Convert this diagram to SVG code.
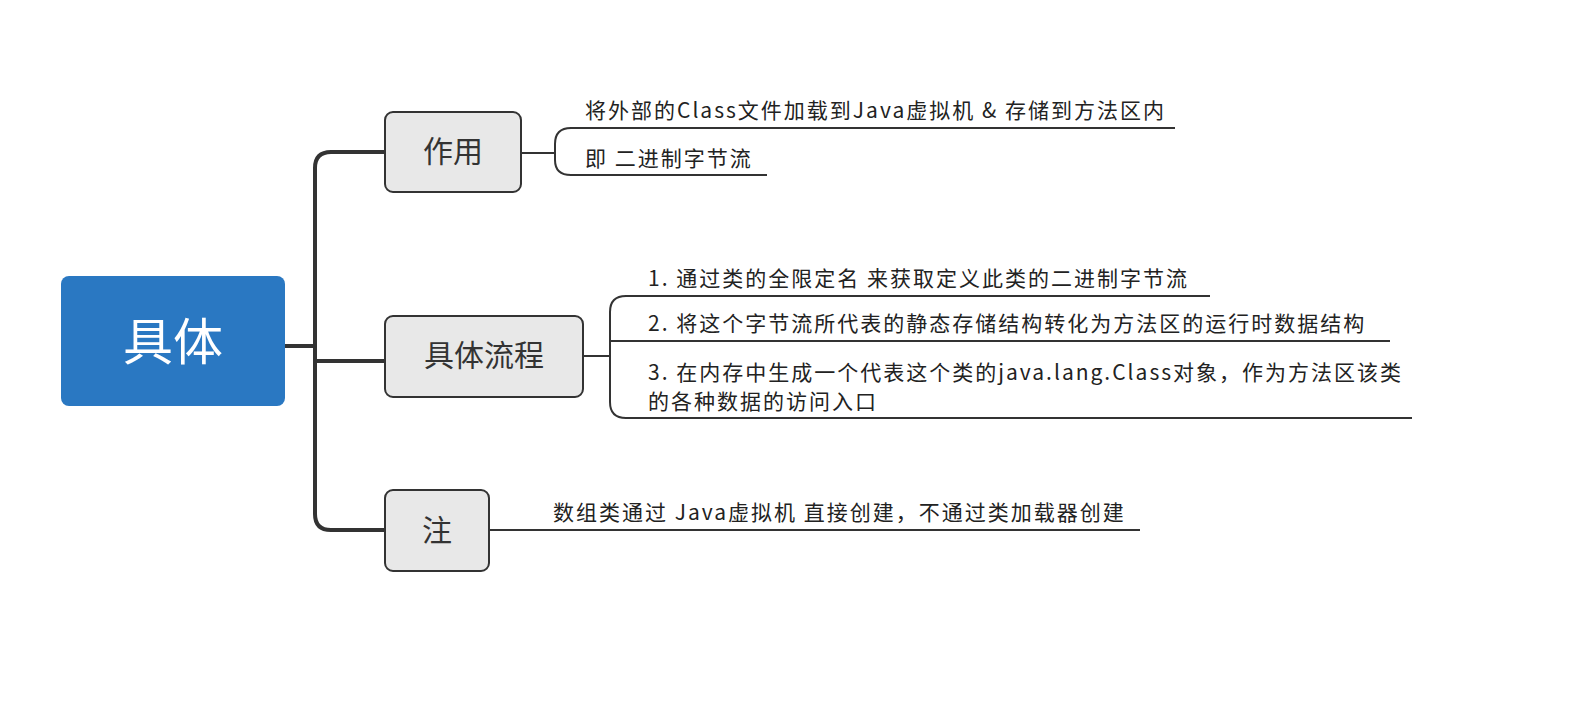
<svg xmlns="http://www.w3.org/2000/svg" width="1592" height="710" viewBox="0 0 1592 710">
<style>
.t{font-family:"Noto Sans CJK SC","Noto Sans",sans-serif;fill:#222;font-size:21px;letter-spacing:2px}
.b{fill:#e8e8e8;stroke:#333;stroke-width:2}
.bt{font-family:"Noto Sans CJK SC",sans-serif;fill:#333;font-size:30px;text-anchor:middle}
.c{fill:none;stroke:#333}
</style>
<rect width="1592" height="710" fill="#fff"/>
<g id="connectors">
<path class="c" stroke-width="4" d="M285 346H315M385 152H331Q315 152 315 168V514Q315 530 331 530H385M315 361H385"/>
<path class="c" stroke-width="2" d="M521 153H548M1175 128H571Q555 128 555 144V160Q555 175 571 175H767M548 153H555"/>
<path class="c" stroke-width="2" d="M583 356H610M1210 296H626Q610 296 610 312V402Q610 418 626 418H1412M610 341H1390"/>
<path class="c" stroke-width="2" d="M489 530H1140"/>
</g>
<g id="root"><rect x="61" y="276" width="224" height="130" rx="8" fill="#2a78c2"/><text x="173" y="360" font-family="Noto Sans CJK SC,sans-serif" font-size="50" fill="#fff" text-anchor="middle">具体</text></g>
<g id="n1"><rect class="b" x="385" y="112" width="136" height="80" rx="8"/><text class="bt" x="453" y="162">作用</text></g>
<g id="n2"><rect class="b" x="385" y="316" width="198" height="81" rx="8"/><text class="bt" x="484" y="366">具体流程</text></g>
<g id="n3"><rect class="b" x="385" y="490" width="104" height="81" rx="8"/><text class="bt" x="437" y="541">注</text></g>
<g id="leaves">
<text class="t" x="585" y="118">将外部的Class文件加载到Java虚拟机 &amp; 存储到方法区内</text>
<text class="t" x="585" y="166">即 二进制字节流</text>
<text class="t" x="648" y="286">1. 通过类的全限定名 来获取定义此类的二进制字节流</text>
<text class="t" x="648" y="331">2. 将这个字节流所代表的静态存储结构转化为方法区的运行时数据结构</text>
<text class="t" x="648" y="380">3. 在内存中生成一个代表这个类的java.lang.Class对象，作为方法区该类</text>
<text class="t" x="648" y="409">的各种数据的访问入口</text>
<text class="t" x="553" y="520">数组类通过 Java虚拟机 直接创建，不通过类加载器创建</text>
</g>
</svg>
